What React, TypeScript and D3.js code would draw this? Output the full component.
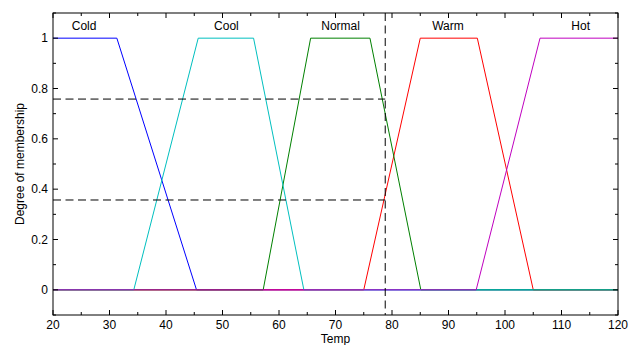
import React from "react";
import * as d3 from "d3";

const tempTicks = [20, 30, 40, 50, 60, 70, 80, 90, 100, 110, 120];
const tempMinorTicks = [25, 35, 45, 55, 65, 75, 85, 95, 105, 115];
const membershipTicks = [0, 0.2, 0.4, 0.6, 0.8, 1];
const membershipMinorTicks = [-0.1, 0.1, 0.3, 0.5, 0.7, 0.9, 1.1];

const coldX = [20, 31.3, 45.4, 120];
const coldY = [1, 1, 0, 0];
const coolX = [20, 34.3, 45.7, 55.5, 64.4, 120];
const coolY = [0, 0, 1, 1, 0, 0];
const normalX = [20, 57.2, 65.6, 76.1, 85.1, 120];
const normalY = [0, 0, 1, 1, 0, 0];
const warmX = [20, 75.0, 85.0, 95.1, 105.0, 120];
const warmY = [0, 0, 1, 1, 0, 0];
const hotX = [20, 94.9, 106.2, 120];
const hotY = [0, 0, 1, 1];

const setNames = ["Cold", "Cool", "Normal", "Warm", "Hot"];
const setLabelX = [25.5, 50.7, 70.9, 89.9, 113.4];

const inputTemp = 78.8;
const firingLevels = [0.758, 0.357];

const W = 638;
const H = 345;
const M = { left: 53, right: 20, top: 13, bottom: 30 };

export default function App() {
  const x = d3.scaleLinear().domain([20, 120]).range([M.left, W - M.right]);
  const y = d3.scaleLinear().domain([-0.1, 1.1]).range([H - M.bottom, M.top]);
  const line = d3
    .line<[number, number]>()
    .x((d) => x(d[0]))
    .y((d) => y(d[1]));

  const series = [
    { xs: coldX, ys: coldY, color: "#0000ff" },
    { xs: warmX, ys: warmY, color: "#ff0000" },
    { xs: normalX, ys: normalY, color: "#008000" },
    { xs: coolX, ys: coolY, color: "#00bfbf" },
    { xs: hotX, ys: hotY, color: "#bf00bf" },
  ];

  const x0 = x(20);
  const x1 = x(120);
  const y0 = y(-0.1);
  const y1 = y(1.1);
  const font = "'Liberation Sans', Arial, Helvetica, sans-serif";

  return (
    <svg
      width={W}
      height={H}
      style={{ position: "absolute", left: 0, top: 0, background: "#fff" }}
      fontFamily={font}
    >
      <rect x={0} y={0} width={W} height={H} fill="#fff" />
      {series.map((s, i) => (
        <path
          key={i}
          d={line(s.xs.map((v, j) => [v, s.ys[j]] as [number, number])) || ""}
          fill="none"
          stroke={s.color}
          strokeWidth={1}
        />
      ))}
      {firingLevels.map((lv, i) => (
        <line
          key={i}
          x1={x0}
          x2={x(inputTemp)}
          y1={y(lv)}
          y2={y(lv)}
          stroke="#000"
          strokeWidth={1}
          strokeDasharray="8,4.5"
        />
      ))}
      <line
        x1={x(inputTemp)}
        x2={x(inputTemp)}
        y1={y1}
        y2={y0}
        stroke="#000"
        strokeWidth={1}
        strokeDasharray="8,4.5"
      />
      {setNames.map((n, i) => (
        <text key={n} x={x(setLabelX[i])} y={30} fontSize={12} textAnchor="middle" fill="#000">
          {n}
        </text>
      ))}
      <rect x={x0} y={y1} width={x1 - x0} height={y0 - y1} fill="none" stroke="#000" strokeWidth={1} />
      {tempTicks.map((t) => (
        <g key={t}>
          <line x1={x(t)} x2={x(t)} y1={y0} y2={y0 - 5} stroke="#000" />
          <line x1={x(t)} x2={x(t)} y1={y1} y2={y1 + 5} stroke="#000" />
          <text x={x(t)} y={329} fontSize={12} textAnchor="middle" fill="#000">
            {t}
          </text>
        </g>
      ))}
      {tempMinorTicks.map((t) => (
        <g key={t}>
          <line x1={x(t)} x2={x(t)} y1={y0} y2={y0 - 3} stroke="#000" />
          <line x1={x(t)} x2={x(t)} y1={y1} y2={y1 + 3} stroke="#000" />
        </g>
      ))}
      {membershipTicks.map((t) => (
        <g key={t}>
          <line x1={x0} x2={x0 + 5} y1={y(t)} y2={y(t)} stroke="#000" />
          <line x1={x1} x2={x1 - 5} y1={y(t)} y2={y(t)} stroke="#000" />
          <text x={48} y={y(t)} dy="0.35em" fontSize={12} textAnchor="end" fill="#000">
            {t}
          </text>
        </g>
      ))}
      {membershipMinorTicks.map((t) => (
        <g key={t}>
          <line x1={x0} x2={x0 + 3} y1={y(t)} y2={y(t)} stroke="#000" />
          <line x1={x1} x2={x1 - 3} y1={y(t)} y2={y(t)} stroke="#000" />
        </g>
      ))}
      <text x={(x0 + x1) / 2} y={343} fontSize={12} textAnchor="middle" fill="#000">
        Temp
      </text>
      <text
        transform={`translate(24,${(y0 + y1) / 2}) rotate(-90)`}
        fontSize={12}
        textAnchor="middle"
        fill="#000"
      >
        Degree of membership
      </text>
    </svg>
  );
}
